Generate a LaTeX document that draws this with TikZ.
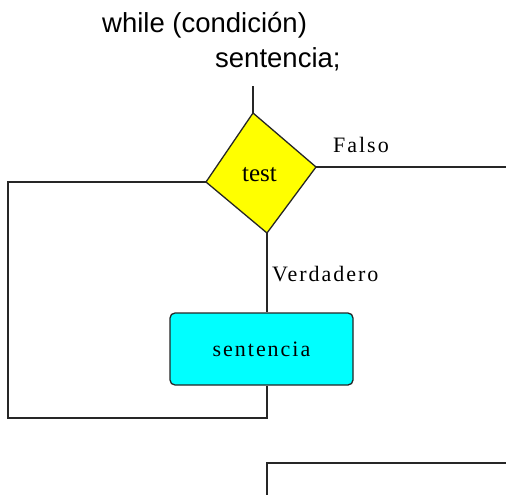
\documentclass[tikz,border=0pt]{standalone}
\usepackage{fontspec}
\setmainfont{Liberation Serif}
\newfontfamily\arialfont{Liberation Sans}
\newfontfamily\labfont[LetterSpace=9]{Liberation Serif}
\definecolor{diamondyellow}{RGB}{255,255,0}
\definecolor{boxcyan}{RGB}{0,255,255}
\begin{document}
\begin{tikzpicture}[x=1pt,y=-1pt,
  conn/.style={draw=black!85, line width=1.3pt},
  titletext/.style={font=\arialfont\fontsize{27.5}{30}\selectfont, anchor=base west, inner sep=0pt},
  lbl/.style={font=\labfont\fontsize{22}{24}\selectfont, anchor=base west, inner sep=0pt},
  decision/.style={draw=black!85, line width=1.3pt, fill=diamondyellow},
  stmt/.style={draw=black!85, line width=1.3pt, fill=boxcyan, rounded corners=5pt,
    minimum width=183pt, minimum height=72pt, inner sep=0pt,
    font=\labfont\fontsize{22}{24}\selectfont}
]
\useasboundingbox (0,0) rectangle (506,495);
% title
\node[titletext] (t1) at (102,33) {while (condición)};
\node[titletext] (t2) at (215,67) {sentencia;};
% diamond
\coordinate (dT) at (253,113);
\coordinate (dR) at (316,167);
\coordinate (dB) at (267,233);
\coordinate (dL) at (206,182);
\draw[decision] (dT) -- (dR) -- (dB) -- (dL) -- cycle;
\node[font=\fontsize{25}{27}\selectfont, inner sep=0pt] (test) at (259.5,175) {test};
% statement box
\node[stmt] (sent) at (261.5,349) {sentencia};
% connectors
\coordinate (topStub) at (253,86);
\draw[conn] (topStub) -- (dT);
\coordinate (falsoEnd) at (506,167);
\draw[conn] (dR) -- (falsoEnd);
\draw[conn] (dB) -- (dB |- sent.north);
\coordinate (loopBR) at (267,418);
\coordinate (loopBL) at (8,418);
\coordinate (loopTL) at (8,182);
\draw[conn] (loopBR |- sent.south) -- (loopBR) -- (loopBL) -- (loopTL) -- (dL);
\coordinate (exitBot) at (267,495);
\coordinate (exitCorner) at (267,463);
\coordinate (exitRight) at (506,463);
\draw[conn] (exitBot) -- (exitCorner) -- (exitRight);
% labels
\node[lbl] (falso) at (333,152) {Falso};
\node[lbl] (verd) at (272,281) {Verdadero};
\end{tikzpicture}
\end{document}
